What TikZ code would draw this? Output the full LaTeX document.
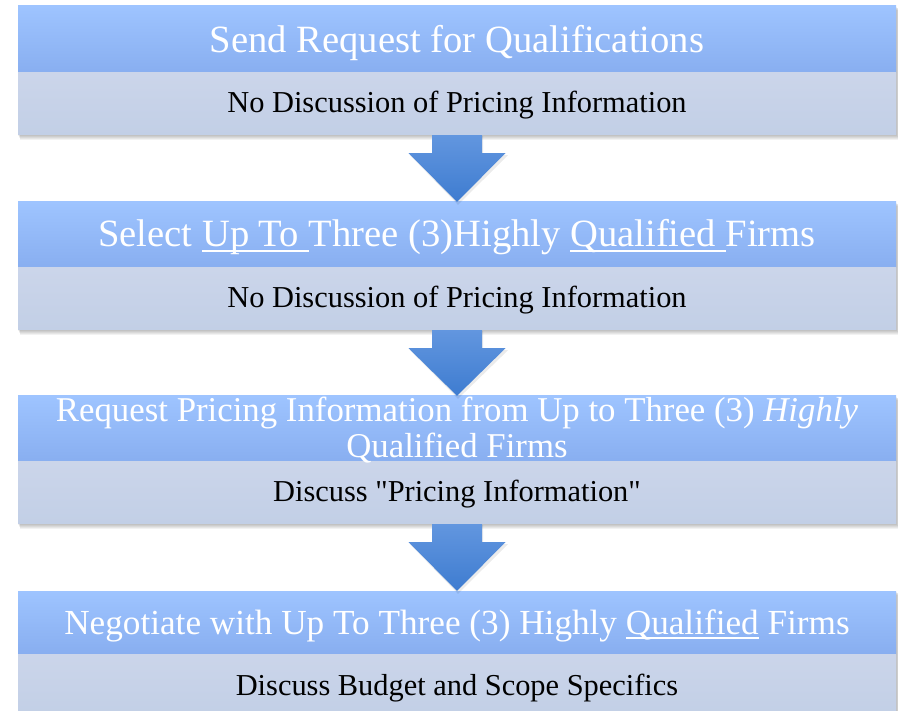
\documentclass[tikz,border=0pt]{standalone}
\usepackage{fontspec}
\setmainfont{Liberation Serif}
\newfontfamily\qfont{Liberation Serif}
\usetikzlibrary{calc}
\definecolor{hdrTop}{RGB}{158,196,255}
\definecolor{hdrBot}{RGB}{136,174,240}
\definecolor{lowTop}{RGB}{203,213,234}
\definecolor{lowBot}{RGB}{194,207,230}
\definecolor{arrTop}{RGB}{98,150,223}
\definecolor{arrBot}{RGB}{62,124,208}
\newcommand\myul[1]{\setbox0\hbox{#1}\rlap{\rule[-0.13em]{\wd0}{0.05em}}\box0\relax}
\newcommand\sq{{\qfont"}}
\tikzset{
 hdrbox/.style={rectangle, minimum width=878pt, inner sep=0pt, top color=hdrTop, bottom color=hdrBot, draw=none},
 lowbox/.style={rectangle, minimum width=878pt, minimum height=62pt, inner sep=0pt, top color=lowTop, bottom color=lowBot, draw=none},
 htext/.style={anchor=base, text=white, inner sep=0pt, font=\fontsize{38.6}{44}\selectfont},
 ltext/.style={anchor=base, text=black, inner sep=0pt, font=\fontsize{30.4}{36}\selectfont},
 blockarrow/.style={top color=arrTop, bottom color=arrBot, draw=none},
 shadowlayer/.style={fill=black, opacity=0.05},
}
\begin{document}
\begin{tikzpicture}[x=1pt,y=-1pt]
\useasboundingbox (0,0) rectangle (898,711);
\fill[white] (0,0) rectangle (898,711);
% soft shadows
\foreach \t/\b in {6/135, 202/330, 396/524, 591/716}{
  \foreach \k in {1,...,5}{
    \fill[shadowlayer] (18+\k*0.4, \t+\k*0.8) rectangle (896+\k*0.8, \b+\k*1.1);
  }
}
% box 1
\node[hdrbox, minimum height=67pt] (h1) at (457,39.5) {};
\node[lowbox] (l1) at (457,104) {};
\node[htext] (t1) at (457,53) {Send Request for Qualifications};
\node[ltext] (u1) at (457,113) {No Discussion of Pricing Information};
% box 2
\node[hdrbox, minimum height=66pt] (h2) at (457,235) {};
\node[lowbox] (l2) at (457,299) {};
\node[htext] (t2) at (457,247) {Select \myul{Up To }Three (3)Highly \myul{Qualified }Firms};
\node[ltext] (u2) at (457,308) {No Discussion of Pricing Information};
% box 3
\node[hdrbox, minimum height=66pt] (h3) at (457,429) {};
\node[lowbox] (l3) at (457,493) {};
\node[htext, font=\fontsize{34.8}{40}\selectfont] (t3a) at (457,422) {Request Pricing Information from Up to Three (3) \textit{Highly}};
\node[htext, font=\fontsize{34.8}{40}\selectfont] (t3b) at (457,458) {Qualified Firms};
\node[ltext] (u3) at (457,502) {Discuss \sq Pricing Information\sq};
% box 4
\node[hdrbox, minimum height=63pt] (h4) at (457,622.5) {};
\node[lowbox] (l4) at (457,685) {};
\node[htext, font=\fontsize{35.2}{40}\selectfont] (t4) at (457,634) {Negotiate with Up To Three (3) Highly \myul{Qualified} Firms};
\node[ltext] (u4) at (457,695) {Discuss Budget and Scope Specifics};
% block arrows
\foreach \a/\b in {l1/h2, l2/h3, l3/h4}{
  \fill[black, opacity=0.08] ($(\a.south)+(-24,1)$) -- ($(\a.south)+(26,1)$) -- ($(\a.south)+(26,20)$) -- ($(\a.south)+(51,20)$) -- ($(\b.north)+(1,3)$) -- ($(\a.south)+(-47,20)$) -- ($(\a.south)+(-24,20)$) -- cycle;
  \path[blockarrow] ($(\a.south)+(-25,0)$) -- ($(\a.south)+(25,0)$) -- ($(\a.south)+(25,18)$) -- ($(\a.south)+(48.5,18)$) -- (\b.north) -- ($(\a.south)+(-48.5,18)$) -- ($(\a.south)+(-25,18)$) -- cycle;
}
\end{tikzpicture}
\end{document}
